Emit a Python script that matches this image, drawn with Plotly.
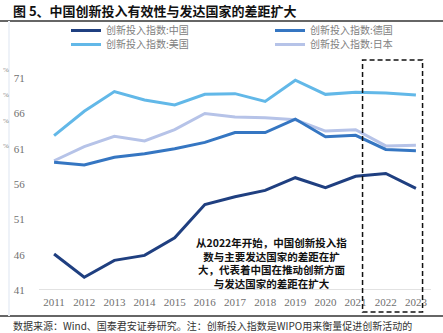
import plotly.graph_objects as go

years = list(range(2011, 2024))
china = [46.1, 42.8, 45.2, 45.9, 48.4, 53.1, 54.2, 55.1, 56.9, 55.5, 57.1, 57.5, 55.4]
germany = [59.1, 58.7, 59.8, 60.3, 61.0, 61.9, 63.3, 63.3, 65.2, 62.7, 62.9, 60.9, 60.7]
usa = [62.85, 66.3, 69.1, 67.9, 67.2, 68.7, 68.8, 67.7, 70.7, 68.7, 69.0, 68.9, 68.6]
japan = [59.3, 61.3, 62.75, 62.1, 63.7, 66.0, 65.5, 65.4, 65.1, 63.5, 63.7, 61.4, 61.5]

names = ["创新投入指数:中国", "创新投入指数:德国", "创新投入指数:美国", "创新投入指数:日本"]
colors = ["#1F3F80", "#3576C2", "#62B8E8", "#B6C3E8"]
series = [china, germany, usa, japan]
legend_ids = ["legend", "legend2", "legend3", "legend4"]
yticks = [41, 46, 51, 56, 61, 66, 71]

W, H = 443, 333
L, R, T, B = 39, 12, 76, 43
pw, ph = W - L - R, H - T - B

fig = go.Figure()
for i in [3, 2, 1, 0]:
    fig.add_trace(go.Scatter(x=years, y=series[i], mode="lines", name=names[i],
                             line=dict(color=colors[i], width=3), legend=legend_ids[i]))

def py(p):  # pixel y -> paper
    return 1 - (p - T) / ph

def px(p):
    return (p - L) / pw

shapes = [
    dict(type="line", xref="paper", yref="paper", x0=px(0), x1=px(443), y0=py(21), y1=py(21),
         line=dict(color="#333333", width=1.5)),
    dict(type="line", xref="paper", yref="paper", x0=px(0), x1=px(443), y0=py(316), y1=py(316),
         line=dict(color="#333333", width=1.5)),
    dict(type="rect", xref="x", yref="paper", x0=2021.23, x1=2023.22, y0=py(312), y1=py(60),
         line=dict(color="#111111", width=1.5, dash="5px,3px"), fillcolor="rgba(0,0,0,0)"),
    dict(type="line", xref="paper", yref="paper", x0=px(9), x1=px(9), y0=py(21), y1=py(316),
         line=dict(color="#EEF2F8", width=2)),
    dict(type="line", xref="paper", yref="y", x0=0, x1=1, y0=41, y1=41,
         line=dict(color="#D9D9D9", width=1.5), layer="below"),
]

annotations = [
    dict(text="图 5、中国创新投入有效性与发达国家的差距扩大", xref="paper", yref="paper",
         x=px(11), y=py(10), xanchor="left", yanchor="middle", showarrow=False,
         font=dict(family="Noto Sans CJK SC", size=13, color="#111111", weight="bold")),
    dict(text="数据来源：Wind、国泰君安证券研究。注：创新投入指数是WIPO用来衡量促进创新活动的",
         xref="paper", yref="paper", x=px(11), y=py(325), xanchor="left", yanchor="middle",
         showarrow=False, font=dict(family="Noto Sans CJK SC", size=10, color="#333333")),
    dict(text="从2022年开始，中国创新投入指<br>数与主要发达国家的差距在扩<br>大，代表着中国在推动创新方面<br>与发达国家的差距在扩大",
         xref="paper", yref="paper", x=px(271.5), y=py(263), xanchor="center", yanchor="middle",
         showarrow=False, align="center",
         font=dict(family="Noto Sans CJK SC", size=10.5, color="#111111", weight="bold")),
]
for yy in [70, 95, 121, 146]:
    annotations.append(dict(text="%", xref="paper", yref="paper", x=px(0.5), y=py(yy),
                            xanchor="left", yanchor="middle", showarrow=False,
                            font=dict(family="Liberation Serif", size=7, color="#888888")))

leg_common = dict(orientation="v", yanchor="top", xanchor="left",
                  font=dict(family="Noto Sans CJK SC", size=10, color="#808080"),
                  itemwidth=30, bgcolor="rgba(0,0,0,0)")
leg_pos = [(66, 16), (270, 16), (66, 30), (270, 30)]  # pixel (left, top) for each legend box

layout_legends = {}
for lid, (lx, ly) in zip(legend_ids, leg_pos):
    layout_legends[lid] = dict(x=px(lx), y=py(ly), **leg_common)

fig.update_layout(
    width=W, height=H,
    margin=dict(l=L, r=R, t=T, b=B, pad=0),
    paper_bgcolor="white", plot_bgcolor="white",
    showlegend=True,
    xaxis=dict(range=[2010.5, 2023.5], tickvals=years,
               ticktext=[str(y) for y in years],
               showgrid=False, zeroline=False, showline=False,
               tickfont=dict(family="Liberation Serif", size=11, color="#707070"),
               ticks="outside", ticklen=2, tickcolor="rgba(0,0,0,0)"),
    yaxis=dict(range=[41, 71.3], tickvals=yticks, showgrid=False, zeroline=False,
               showline=False, ticks="outside", ticklen=11, tickcolor="rgba(0,0,0,0)",
               tickfont=dict(family="Liberation Serif", size=11, color="#707070")),
    shapes=shapes,
    annotations=annotations,
    **layout_legends,
)

fig.write_html("out.html")
